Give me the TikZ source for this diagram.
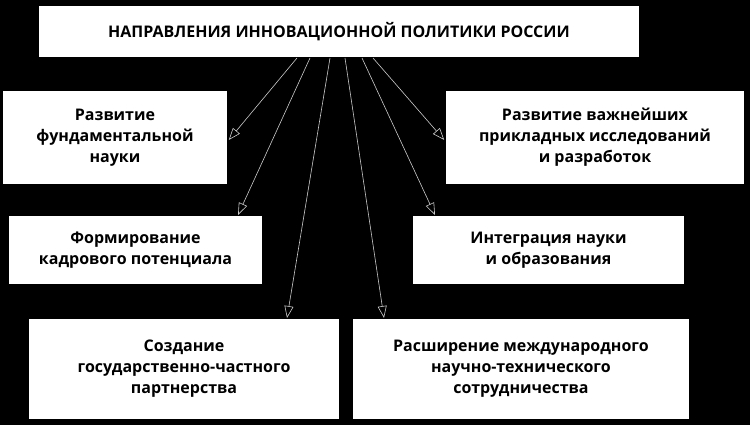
\documentclass[tikz,border=0pt]{standalone}
\usepackage{fontspec}
\setmainfont{Open Sans}
\usetikzlibrary{arrows.meta}
\begin{document}
\begin{tikzpicture}[x=1pt,y=-1pt,
  box/.style={fill=white,draw=black,line width=1.5pt,font=\bfseries\fontsize{16}{21}\selectfont,align=center,inner sep=0pt},
  arr/.style={draw=white!80!black,line width=0.6pt,-{Triangle[open,length=12pt,width=9pt]}}]
\fill[black] (0,0) rectangle (750,425);
\useasboundingbox (0,0) rectangle (750,425);
\node[box,minimum width=602,minimum height=53] (top) at (339,31.5) {НАПРАВЛЕНИЯ ИННОВАЦИОННОЙ ПОЛИТИКИ РОССИИ};
\node[box,minimum width=226,minimum height=95] (b1) at (115,137.5) {Развитие\\фундаментальной\\науки};
\node[box,minimum width=300,minimum height=95] (b2) at (595,137.5) {Развитие важнейших\\прикладных исследований\\и разработок};
\node[box,minimum width=255,minimum height=70] (b3) at (135.5,250) {Формирование\\кадрового потенциала};
\node[box,minimum width=273,minimum height=70] (b4) at (548.5,250) {Интеграция науки\\и образования};
\node[box,minimum width=312,minimum height=102] (b5) at (184,369) {Создание\\государственно-частного\\партнерства};
\node[box,minimum width=338,minimum height=102] (b6) at (521,369) {Расширение международного\\научно-технического\\сотрудничества};
\coordinate (s1) at (297,58); \coordinate (s2) at (310,58); \coordinate (s3) at (330,58);
\coordinate (s4) at (345,58); \coordinate (s5) at (362,58); \coordinate (s6) at (373,58);
\draw[arr] (s1) -- (b1.east |- 0,140);
\draw[arr] (s2) -- (238,215);
\draw[arr] (s3) -- (287,318);
\draw[arr] (s4) -- (384,318);
\draw[arr] (s5) -- (435,215);
\draw[arr] (s6) -- (b2.west |- 0,140);
\end{tikzpicture}
\end{document}
